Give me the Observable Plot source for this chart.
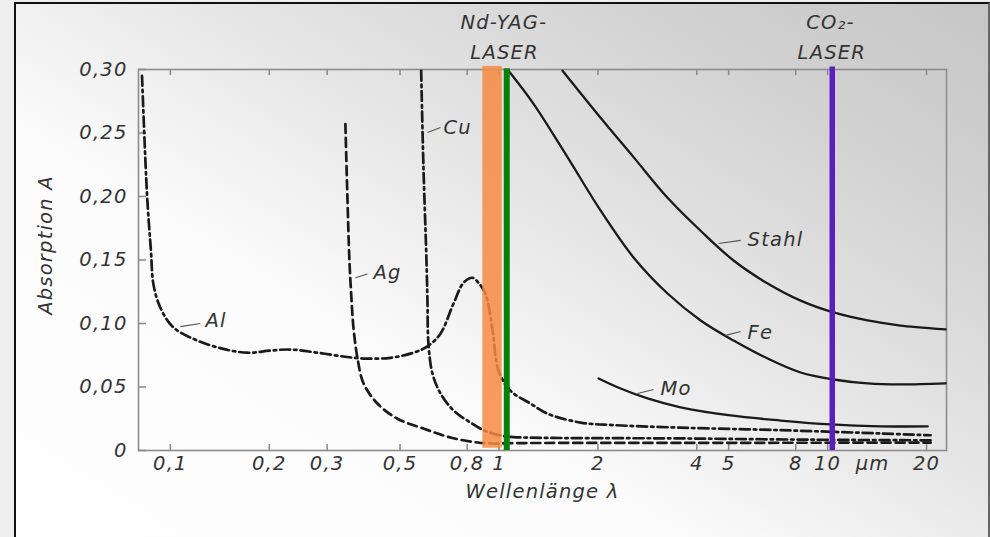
<!DOCTYPE html>
<html>
<head>
<meta charset="utf-8">
<script src="https://cdn.jsdelivr.net/npm/d3@7"></script>
<script src="https://cdn.jsdelivr.net/npm/@observablehq/plot@0.6"></script>
<style>
  html, body { margin: 0; padding: 0; background: #eeeeee; }
  #wrap { position: relative; width: 990px; height: 537px; overflow: hidden; background: #eeeeee; }
  #panel { position: absolute; left: 14px; top: 2px; width: 972px; height: 600px;
    border-left: 2px solid #111; border-top: 2px solid #111; border-right: 2px solid #666;
    background: linear-gradient(to top right, #ffffff 0%, #fbfbfb 40%, #e6e6e6 60%, #d2d2d2 82%, #c6c6c6 100%); }
  #chart { position: absolute; left: 0; top: 0; }
  #chart svg text { letter-spacing: 1.2px; }
</style>
</head>
<body>
<div id="wrap"><div id="panel"></div><div id="chart"></div></div>
<script>
// ---- data (wavelength in µm, absorption A) ----
const alL = [0.082, 0.0849, 0.0873, 0.0888, 0.0932, 0.1021, 0.1208, 0.1449, 0.1715, 0.2015, 0.2318, 0.2803, 0.3361, 0.3869, 0.4673, 0.5491, 0.6058, 0.6636, 0.7271, 0.7798, 0.8304, 0.8662, 0.9097, 0.9554, 0.9965, 1.084, 1.247, 1.405, 1.771, 2.232, 3.568, 7.194, 14.5, 20.58];
const alA = [0.295, 0.202, 0.157, 0.131, 0.1126, 0.097, 0.0866, 0.080, 0.077, 0.0787, 0.0795, 0.077, 0.074, 0.0724, 0.073, 0.077, 0.082, 0.092, 0.1157, 0.132, 0.136, 0.132, 0.1234, 0.095, 0.063, 0.047, 0.037, 0.029, 0.022, 0.020, 0.018, 0.016, 0.0134, 0.012];

const agL = [0.3409, 0.3457, 0.3506, 0.3556, 0.3606, 0.3709, 0.3869, 0.4267, 0.4909, 0.5891, 0.7117, 0.8603, 0.9623, 1.107, 3.568, 20.58];
const agA = [0.257, 0.200, 0.150, 0.120, 0.097, 0.073, 0.053, 0.037, 0.025, 0.0173, 0.0102, 0.0063, 0.0055, 0.0058, 0.006, 0.0062];

const cuL = [0.5797, 0.5891, 0.6016, 0.6058, 0.6101, 0.6274, 0.6636, 0.7271, 0.8188, 0.8971, 1.011, 1.107, 3.568, 9.066, 20.58];
const cuA = [0.299, 0.223, 0.150, 0.118, 0.084, 0.0606, 0.045, 0.0315, 0.022, 0.016, 0.0118, 0.0106, 0.0095, 0.0085, 0.008];

const moL = [2.009, 2.344, 2.831, 3.568, 5.066, 7.194, 10.21, 14.5, 20.16];
const moA = [0.0567, 0.0488, 0.041, 0.034, 0.0276, 0.0236, 0.0205, 0.019, 0.019];

const feL = [1.069, 1.274, 1.616, 2.037, 2.567, 3.258, 4.107, 5.174, 6.57, 8.278, 10.43, 13.24, 16.68, 22.87];
const feA = [0.299, 0.273, 0.231, 0.189, 0.152, 0.1236, 0.1024, 0.0866, 0.0724, 0.0614, 0.0559, 0.0528, 0.052, 0.0528];

const stahlL = [1.561, 2.037, 2.567, 3.258, 4.107, 5.174, 6.57, 8.278, 10.43, 13.24, 16.68, 22.87];
const stahlA = [0.299, 0.262, 0.231, 0.199, 0.173, 0.1496, 0.1315, 0.118, 0.1087, 0.1024, 0.0984, 0.0953];

// curve labels with leader lines
const labelNames = ["Al", "Ag", "Cu", "Stahl", "Fe", "Mo"];
const labelL = [0.128, 0.415, 0.678, 5.707, 5.707, 3.10];
const labelA = [0.1024, 0.140, 0.2543, 0.166, 0.0929, 0.0488];
const leadL1 = [0.1073, 0.3659, 0.606, 4.659, 4.893, 2.64];
const leadA1 = [0.0976, 0.136, 0.2504, 0.163, 0.0906, 0.0449];
const leadL2 = [0.1234, 0.398, 0.664, 5.436, 5.436, 2.953];
const leadA2 = [0.100, 0.139, 0.2543, 0.1654, 0.0937, 0.048];

// laser markers
const ndBand = [0.893, 1.023];     // orange band
const ndLine = 1.056;              // green line
const co2Line = 10.33;             // purple line
const laserText = ["Nd-YAG-", "LASER", "CO₂-", "LASER"];
const laserL = [1.035, 1.04, 10.2, 10.3];
const laserA = [0.337, 0.3134, 0.337, 0.3134];

// axes
const xTicks = [0.1, 0.2, 0.3, 0.5, 0.8, 1, 2, 4, 5, 8, 10, 20];
const xTickLabels = ["0,1", "0,2", "0,3", "0,5", "0,8", "1", "2", "4", "5", "8", "10", "20"];
const yTicks = [0, 0.05, 0.10, 0.15, 0.20, 0.25, 0.30];
const yTickLabels = ["0", "0,05", "0,10", "0,15", "0,20", "0,25", "0,30"];
const xUnit = "µm";
const xUnitL = 13.7;
const xTitle = "Wellenlänge λ";
const yTitle = "Absorption A";

// ---- build ----
const toPts = (L, A) => L.map((x, i) => ({x, y: A[i]}));
const xTickData = xTicks.map((v, i) => ({v, t: xTickLabels[i]}));
const yTickData = yTicks.map((v, i) => ({v, t: yTickLabels[i]}));
const labels = labelNames.map((n, i) => ({n, x: labelL[i], y: labelA[i], x1: leadL1[i], y1: leadA1[i], x2: leadL2[i], y2: leadA2[i]}));
const lasers = laserText.map((t, i) => ({t, x: laserL[i], y: laserA[i]}));

const ink = "#1a1a1a";
const txt = "#333333";
const W = 990, H = 537, mL = 138, mR = 44, mT = 69, mB = 87;
const fw = W - mL - mR, fh = H - mT - mB;
const FS = 19.5;

const chart = Plot.plot({
  width: W, height: H,
  marginLeft: mL, marginRight: mR, marginTop: mT, marginBottom: mB,
  style: {background: "transparent", fontFamily: "DejaVu Sans", fontStyle: "italic", fontSize: FS + "px", color: txt, overflow: "visible"},
  x: {type: "log", domain: [0.08, 23], axis: null},
  y: {domain: [0, 0.30], axis: null},
  marks: [
    Plot.frame({stroke: "#8c8c8c", strokeWidth: 1.6}),
    Plot.ruleX(xTicks, {x: d => d, insetTop: fh - 6, stroke: "#8c8c8c", strokeWidth: 1.6}),
    Plot.ruleX(xTicks, {x: d => d, insetBottom: fh - 6, stroke: "#8c8c8c", strokeWidth: 1.6}),
    Plot.ruleY(yTicks, {y: d => d, insetRight: fw - 8, stroke: "#8c8c8c", strokeWidth: 1.6}),
    Plot.text(xTickData, {x: "v", text: "t", frameAnchor: "bottom", dy: 19, fontSize: FS, fill: txt}),
    Plot.text(yTickData, {y: "v", text: "t", frameAnchor: "left", dx: -11, textAnchor: "end", fontSize: FS, fill: txt}),
    Plot.text([xUnit], {x: xUnitL, frameAnchor: "bottom", dy: 19, text: d => d, fontSize: FS, fill: txt}),
    Plot.text([xTitle], {frameAnchor: "bottom", dy: 47, text: d => d, fontSize: FS, fill: txt}),
    Plot.text([yTitle], {frameAnchor: "left", dx: -93, dy: -15, rotate: -90, textAnchor: "middle", text: d => d, fontSize: FS, fill: txt}),

    Plot.line(toPts(alL, alA), {x: "x", y: "y", curve: "catmull-rom", stroke: ink, strokeWidth: 2.7, strokeDasharray: "10,4,2.5,4"}),
    Plot.line(toPts(agL, agA), {x: "x", y: "y", curve: "catmull-rom", stroke: ink, strokeWidth: 2.7, strokeDasharray: "9,5"}),
    Plot.line(toPts(cuL, cuA), {x: "x", y: "y", curve: "catmull-rom", stroke: ink, strokeWidth: 2.7, strokeDasharray: "10,4,2.5,4"}),
    Plot.line(toPts(moL, moA), {x: "x", y: "y", curve: "catmull-rom", stroke: ink, strokeWidth: 2.3}),
    Plot.line(toPts(feL, feA), {x: "x", y: "y", curve: "catmull-rom", stroke: ink, strokeWidth: 2.3}),
    Plot.line(toPts(stahlL, stahlA), {x: "x", y: "y", curve: "catmull-rom", stroke: ink, strokeWidth: 2.3}),

    Plot.link(labels, {x1: "x1", y1: "y1", x2: "x2", y2: "y2", stroke: "#555", strokeWidth: 1.2}),
    Plot.text(labels, {x: "x", y: "y", text: "n", textAnchor: "start", fontSize: FS, fill: txt}),

    Plot.rect([ndBand], {x1: d => d[0], x2: d => d[1], y1: 0.0018, y2: 0.3024, fill: "#f88842", fillOpacity: 0.85}),
    Plot.ruleX([ndLine], {x: d => d, y1: 0, y2: 0.3005, stroke: "#087f08", strokeWidth: 6}),
    Plot.ruleX([co2Line], {x: d => d, y1: 0, y2: 0.3020, stroke: "#5b1fbe", strokeWidth: 5.5}),

    Plot.text(lasers, {x: "x", y: "y", text: "t", fontSize: FS, fill: txt})
  ]
});
document.getElementById("chart").appendChild(chart);
</script>
</body>
</html>
